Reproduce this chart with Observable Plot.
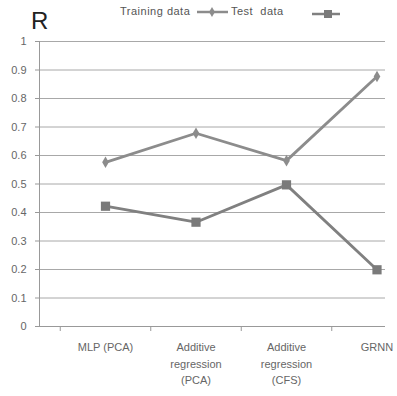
<!DOCTYPE html>
<html><head><meta charset="utf-8">
<script src="https://cdn.jsdelivr.net/npm/d3@7"></script>
<script src="https://cdn.jsdelivr.net/npm/@observablehq/plot@0.6"></script>
<style>
body{margin:0;background:#fff;}
#wrap{position:relative;width:397px;height:396px;overflow:hidden;font-family:"Liberation Sans",Arial,sans-serif;}
#wrap svg.plot{overflow:hidden;}
.ttl{position:absolute;left:31px;top:9px;font-size:24px;line-height:1;color:#222;}
.leg{position:absolute;top:3px;left:0;}
</style>
</head><body><div id="wrap"></div>
<script>
const categories = ["MLP (PCA)", "Additive\nregression\n(PCA)", "Additive\nregression\n(CFS)", "GRNN"];
const seriesNames = ["Training data", "Test  data"];
const training = [0.576, 0.678, 0.582, 0.877];
const test = [0.422, 0.366, 0.497, 0.199];
const yTicks = d3.range(0, 11).map(i => i / 10);
const xBoundaries = [-0.5, 0.5, 1.5, 2.5];

const rows = [];
categories.forEach((c, i) => {
  rows.push({i, series: seriesNames[0], value: training[i]});
  rows.push({i, series: seriesNames[1], value: test[i]});
});
const trainRows = rows.filter(d => d.series === seriesNames[0]);
const testRows = rows.filter(d => d.series === seriesNames[1]);

const chart = Plot.plot({
  width: 397, height: 396,
  marginLeft: 39, marginRight: 12, marginTop: 41, marginBottom: 70,
  style: {fontFamily: "Liberation Sans, Arial, sans-serif", background: "#fff", overflow: "hidden"},
  x: {type: "linear", domain: [0, 3], range: [105, 376.5]},
  y: {domain: [0, 1]},
  marks: [
    Plot.ruleY(yTicks, {stroke: "#a8a8a8", strokeWidth: 1}),
    Plot.axisY({ticks: yTicks, tickFormat: d => String(+d.toFixed(1)), tickSize: 4, tickPadding: 9,
      stroke: "#999", fill: "#666", fontSize: 11, label: null}),
    Plot.frame({anchor: "left", stroke: "#999"}),
    Plot.ruleY([0], {stroke: "#999"}),
    Plot.axisX({ticks: xBoundaries, tickFormat: () => "", tickSize: 5, stroke: "#999", label: null}),
    Plot.text(categories, {x: (d, i) => i, text: d => d, frameAnchor: "bottom", dy: 13,
      lineAnchor: "top", lineHeight: 1.5, fill: "#666", fontSize: 11, style: "letter-spacing:0.9px"}),
    Plot.line(trainRows, {x: "i", y: "value", stroke: "#8c8c8c", strokeWidth: 2.8}),
    Plot.line(testRows, {x: "i", y: "value", stroke: "#808080", strokeWidth: 2.8}),
    Plot.dot(trainRows, {x: "i", y: "value", symbol: "diamond", r: 3.5, fill: "#8c8c8c", stroke: "none"}),
    Plot.dot(testRows, {x: "i", y: "value", symbol: "square", r: 5.2, fill: "#7a7a7a", stroke: "none"})
  ]
});

const wrap = document.getElementById("wrap");
wrap.appendChild(chart);

const ttl = document.createElement("div");
ttl.className = "ttl";
ttl.textContent = "R";
wrap.appendChild(ttl);

const leg = document.createElementNS("http://www.w3.org/2000/svg", "svg");
leg.setAttribute("class", "leg");
leg.setAttribute("width", "397");
leg.setAttribute("height", "20");
const ls = d3.select(leg);
ls.append("text").attr("x", 120).attr("y", 12).attr("fill", "#555").attr("font-size", 11)
  .attr("font-family", "Liberation Sans, Arial, sans-serif").attr("letter-spacing", "0.5").text(seriesNames[0]);
ls.append("line").attr("x1", 197).attr("x2", 228).attr("y1", 9).attr("y2", 9).attr("stroke", "#8c8c8c").attr("stroke-width", 2.5);
ls.append("path").attr("d", d3.symbol(d3.symbolDiamond, 30)()).attr("transform", "translate(212,9)").attr("fill", "#8c8c8c");
ls.append("text").attr("x", 231).attr("y", 12).attr("fill", "#555").attr("font-size", 11)
  .attr("font-family", "Liberation Sans, Arial, sans-serif").attr("letter-spacing", "0.5").style("white-space", "pre").text(seriesNames[1]);
ls.append("line").attr("x1", 312).attr("x2", 340).attr("y1", 11).attr("y2", 11).attr("stroke", "#808080").attr("stroke-width", 2.5);
ls.append("rect").attr("x", 324).attr("y", 7).attr("width", 8).attr("height", 8).attr("fill", "#7a7a7a");
wrap.appendChild(leg);
</script>
</body></html>
